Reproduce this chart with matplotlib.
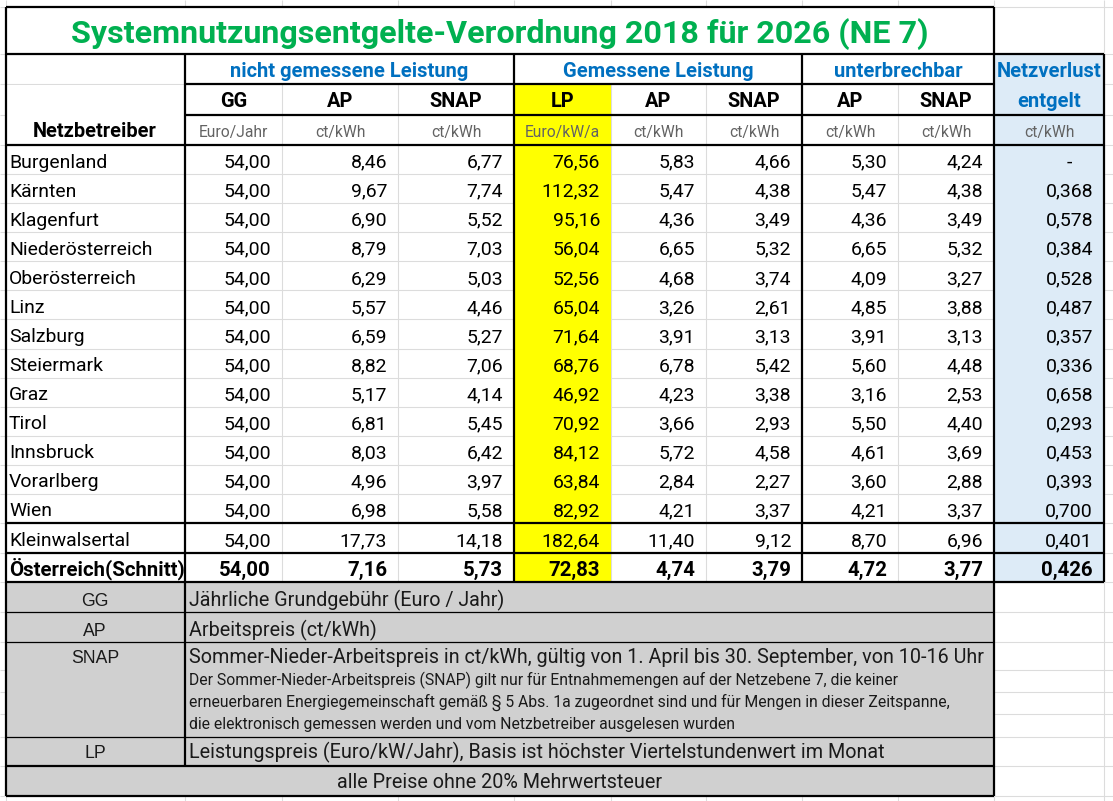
import matplotlib
matplotlib.use("Agg")
import matplotlib.pyplot as plt
from matplotlib.patches import Rectangle

# --- table content -------------------------------------------------------
title = "Systemnutzungsentgelte-Verordnung 2018 für 2026 (NE 7)"
groups = ["nicht gemessene Leistung", "Gemessene Leistung", "unterbrechbar"]
sub_headers = ["GG", "AP", "SNAP", "LP", "AP", "SNAP", "AP", "SNAP"]
units = ["Euro/Jahr", "ct/kWh", "ct/kWh", "Euro/kW/a", "ct/kWh", "ct/kWh",
         "ct/kWh", "ct/kWh", "ct/kWh"]

netzbetreiber = ["Burgenland", "Kärnten", "Klagenfurt", "Niederösterreich",
                 "Oberösterreich", "Linz", "Salzburg", "Steiermark", "Graz",
                 "Tirol", "Innsbruck", "Vorarlberg", "Wien", "Kleinwalsertal",
                 "Österreich(Schnitt)"]
gg = [54.00, 54.00, 54.00, 54.00, 54.00, 54.00, 54.00, 54.00, 54.00, 54.00,
      54.00, 54.00, 54.00, 54.00, 54.00]
ap_ng = [8.46, 9.67, 6.90, 8.79, 6.29, 5.57, 6.59, 8.82, 5.17, 6.81, 8.03,
         4.96, 6.98, 17.73, 7.16]
snap_ng = [6.77, 7.74, 5.52, 7.03, 5.03, 4.46, 5.27, 7.06, 4.14, 5.45, 6.42,
           3.97, 5.58, 14.18, 5.73]
lp = [76.56, 112.32, 95.16, 56.04, 52.56, 65.04, 71.64, 68.76, 46.92, 70.92,
      84.12, 63.84, 82.92, 182.64, 72.83]
ap_g = [5.83, 5.47, 4.36, 6.65, 4.68, 3.26, 3.91, 6.78, 4.23, 3.66, 5.72,
        2.84, 4.21, 11.40, 4.74]
snap_g = [4.66, 4.38, 3.49, 5.32, 3.74, 2.61, 3.13, 5.42, 3.38, 2.93, 4.58,
          2.27, 3.37, 9.12, 3.79]
ap_u = [5.30, 5.47, 4.36, 6.65, 4.09, 4.85, 3.91, 5.60, 3.16, 5.50, 4.61,
        3.60, 4.21, 8.70, 4.72]
snap_u = [4.24, 4.38, 3.49, 5.32, 3.27, 3.88, 3.13, 4.48, 2.53, 4.40, 3.69,
          2.88, 3.37, 6.96, 3.77]
netzverlust = [None, 0.368, 0.578, 0.384, 0.528, 0.487, 0.357, 0.336, 0.658,
               0.293, 0.453, 0.393, 0.700, 0.401, 0.426]

legend_keys = ["GG", "AP", "SNAP", "LP"]
legend_text = ["Jährliche Grundgebühr (Euro / Jahr)",
               "Arbeitspreis (ct/kWh)",
               "Sommer-Nieder-Arbeitspreis in ct/kWh, gültig von 1. April bis 30. September, von 10-16 Uhr",
               "Leistungspreis (Euro/kW/Jahr), Basis ist höchster Viertelstundenwert im Monat"]
snap_note = ["Der Sommer-Nieder-Arbeitspreis (SNAP) gilt nur für Entnahmemengen auf der Netzebene 7, die keiner",
             "erneuerbaren Energiegemeinschaft gemäß § 5 Abs. 1a zugeordnet sind und für Mengen in dieser Zeitspanne,",
             "die elektronisch gemessen werden und vom Netzbetreiber ausgelesen wurden"]
footer = "alle Preise ohne 20% Mehrwertsteuer"

# --- sheet geometry (pixels) ----------------------------------------------
W, H = 1113, 801
cols = [6, 185, 282, 398, 514, 611, 706, 802, 898, 994, 1104]
head_rows = [7, 54, 84, 115, 145]
data_rows = [145 + i * (523 - 145) / 13 for i in range(14)] + [553, 582]
leg_rows = [582, 612, 642, 670, 692, 714, 737, 766, 796]

GREEN = "#00B050"
BLUE = "#0070C0"
UNIT = "#636363"
GRID = "#DCDCDC"
YELLOW = "#FFFF00"
LBLUE = "#DDEBF7"
GRAY = "#D0D0D0"
FONT = "Roboto"

fig = plt.figure(figsize=(W / 100, H / 100), dpi=100)
ax = fig.add_axes([0, 0, 1, 1])
ax.set_xlim(0, W)
ax.set_ylim(H, 0)
ax.axis("off")
renderer = fig.canvas.get_renderer()


def fit(s, target, **kw):
    # font size that makes s about target pixels wide
    t = ax.text(0, 0, s, fontsize=10, **kw)
    w = t.get_window_extent(renderer).width
    t.remove()
    return 10 * target / w


def de(v, nd=2):
    return f"{v:.{nd}f}".replace(".", ",")


fs_title = fit(title, 858, family=FONT, weight="bold")
fs_group = fit(groups[0], 238, family=FONT, weight="bold")
fs_sub = fit("Netzbetreiber", 124, family=FONT, weight="bold")
fs_unit = fit("Euro/Jahr", 69, family=FONT)
fs_data = fit("Burgenland", 98, family=FONT)
fs_bold = fit(netzbetreiber[-1], 175, family=FONT, weight="bold")
fs_leg = fit(legend_text[2], 794, family=FONT)
fs_note = fit(snap_note[1], 764, family=FONT)
fs_key = fit("SNAP", 48, family="Liberation Sans")

# --- excel gridlines everywhere, then cell fills cover them ---------------
all_rows = head_rows + data_rows[1:] + leg_rows[1:]
ax.hlines(all_rows, 0, W, color=GRID, lw=0.8, zorder=0)
ax.vlines(cols, 0, H, color=GRID, lw=0.8, zorder=0)

def cell(x0, x1, y0, y1, color="white"):
    ax.add_patch(Rectangle((x0, y0), x1 - x0, y1 - y0, facecolor=color,
                           edgecolor="none", zorder=1))

cell(6, 994, 7, 54)
cell(185, 514, 54, 84)
cell(514, 802, 54, 84)
cell(802, 994, 54, 84)
cell(6, 185, 85, 145)
cell(514, 611, 84, 582, YELLOW)
cell(994, 1104, 54, 582, LBLUE)
cell(6, 994, 582, 796, GRAY)

# --- borders ----------------------------------------------------------------
K = dict(color="black", lw=1.6, zorder=3)
ax.hlines([7], 6, 994, **K)
ax.hlines([54, 145, 523, 553, 582], 6, 1104, **K)
ax.hlines([84], 185, 994, **K)
ax.hlines([115], 185, 1104, **K)
ax.hlines([766, 796], 6, 994, **K)
ax.hlines([612, 642, 737], 6, 994, color="black", lw=0.9, zorder=3)
ax.vlines([6, 994], 7, 796, **K)
ax.vlines([185], 54, 766, **K)
ax.vlines([514, 802, 1104], 54, 582, **K)

# --- header texts -----------------------------------------------------------
T = dict(zorder=4, family=FONT)
ax.text(500, 43, title, ha="center", va="baseline", fontsize=fs_title,
        color=GREEN, weight="bold", **T)
for g, x0, x1 in zip(groups, [185, 514, 802], [514, 802, 994]):
    ax.text((x0 + x1) / 2, 77, g, ha="center", va="baseline",
            fontsize=fs_group, color=BLUE, weight="bold", **T)
ax.text(1049, 77, "Netzverlust", ha="center", va="baseline",
        fontsize=fs_group, color=BLUE, weight="bold", **T)
ax.text(1049, 107, "entgelt", ha="center", va="baseline",
        fontsize=fs_group, color=BLUE, weight="bold", **T)
for i, s in enumerate(sub_headers):
    ax.text((cols[i + 1] + cols[i + 2]) / 2, 107, s, ha="center",
            va="baseline", fontsize=fs_sub, weight="bold", **T)
ax.text(95, 137, "Netzbetreiber", ha="center", va="baseline",
        fontsize=fs_sub, weight="bold", **T)
for i, s in enumerate(units):
    ax.text((cols[i + 1] + cols[i + 2]) / 2, 137, s, ha="center",
            va="baseline", fontsize=fs_unit, color=UNIT, **T)

# --- data -------------------------------------------------------------------
value_cols = [gg, ap_ng, snap_ng, lp, ap_g, snap_g, ap_u, snap_u, netzverlust]
for r, name in enumerate(netzbetreiber):
    last = r == len(netzbetreiber) - 1
    wt = "bold" if last else "normal"
    fs = fs_bold if last else fs_data
    yb = data_rows[r + 1] - 6.5
    ax.text(9, yb, name, ha="left", va="baseline", fontsize=fs, weight=wt, **T)
    for c, vals in enumerate(value_cols):
        v = vals[r]
        nd = 3 if c == len(value_cols) - 1 else 2
        if v is None:
            ax.text(1069, yb, "-", ha="center", va="baseline", fontsize=fs,
                    weight=wt, **T)
            continue
        ax.text(cols[c + 2] - 11, yb, de(v, nd), ha="right", va="baseline",
                fontsize=fs, weight=wt, **T)

# --- legend -----------------------------------------------------------------
key_rows = [(582, 612), (612, 642), (642, 737), (737, 766)]
key_base = [606, 636, 663, 758]
for k, txt, yb in zip(legend_keys, legend_text, key_base):
    ax.text(95, yb, k, ha="center", va="baseline", fontsize=fs_key,
            family="Liberation Sans", color="#1a1a1a", zorder=4)
    ax.text(189, yb, txt, ha="left", va="baseline", fontsize=fs_leg,
            color="#1a1a1a", **T)
for line, yb in zip(snap_note, [685, 707, 729]):
    ax.text(189, yb, line, ha="left", va="baseline", fontsize=fs_note,
            color="#1a1a1a", **T)
ax.text(500, 788, footer, ha="center", va="baseline", fontsize=fs_leg,
        color="#1a1a1a", **T)

fig.savefig("out.png", dpi=100)
